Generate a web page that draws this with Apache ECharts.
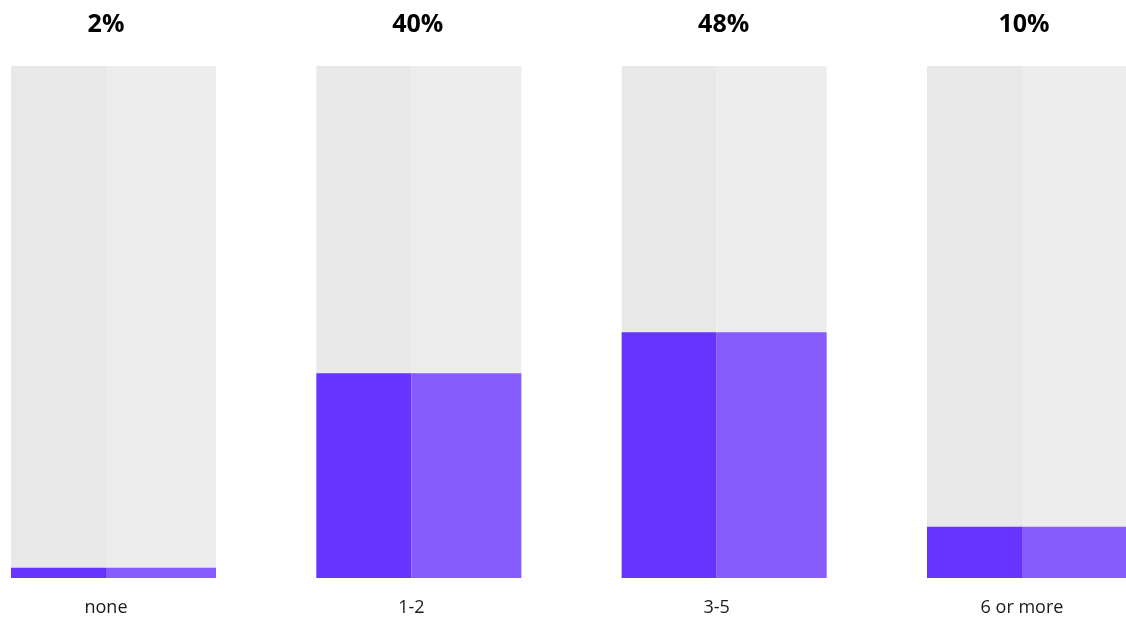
<!DOCTYPE html>
<html>
<head>
<meta charset="utf-8">
<script src="https://cdn.jsdelivr.net/npm/echarts@6/dist/echarts.min.js"></script>
<style>
  html, body { margin: 0; padding: 0; background: #ffffff; }
  #chart { width: 1126px; height: 617px; }
</style>
</head>
<body>
<div id="chart"></div>
<script>
// Share of respondents per answer group
const categories = ['none', '1-2', '3-5', '6 or more'];
const shares = [2, 40, 48, 10];
const shareLabels = ['2%', '40%', '48%', '10%'];
// right padding of each headline label (moves its centre left by half)
const headlinePad = [15, 2, 1, 11];

const FONT = '"Open Sans", "Noto Sans", sans-serif';
const chart = echarts.init(document.getElementById('chart'));

chart.setOption({
  backgroundColor: '#ffffff',
  animation: false,
  grid: {
    left: -39.17, right: -56.17, top: 66, bottom: 39,
    containLabel: false,
    outerBoundsMode: 'none'
  },
  xAxis: [
    {
      type: 'category',
      data: categories,
      position: 'bottom',
      axisLine: { show: false },
      axisTick: { show: false },
      axisLabel: {
        margin: 21,
        fontFamily: FONT,
        fontSize: 18,
        color: '#1a1a1a',
        padding: [0, 15, 0, 0]
      }
    },
    {
      type: 'category',
      data: shareLabels.map((t, i) => ({
        value: t,
        textStyle: { padding: [0, headlinePad[i], 0, 0] }
      })),
      position: 'top',
      axisLine: { show: false },
      axisTick: { show: false },
      axisLabel: {
        margin: 29,
        fontFamily: FONT,
        fontSize: 25,
        fontWeight: 'bold',
        color: '#000000'
      }
    }
  ],
  yAxis: {
    type: 'value',
    min: 0,
    max: 100,
    show: false,
    splitLine: { show: false }
  },
  series: [
    {
      type: 'bar',
      data: shares,
      barWidth: 95,
      barGap: '0%',
      showBackground: true,
      backgroundStyle: { color: '#e8e8e8' },
      itemStyle: { color: '#6633ff' }
    },
    {
      type: 'bar',
      data: shares,
      barWidth: 110,
      barGap: '0%',
      showBackground: true,
      backgroundStyle: { color: '#ececec' },
      itemStyle: { color: '#875cff' }
    }
  ]
});
</script>
</body>
</html>
